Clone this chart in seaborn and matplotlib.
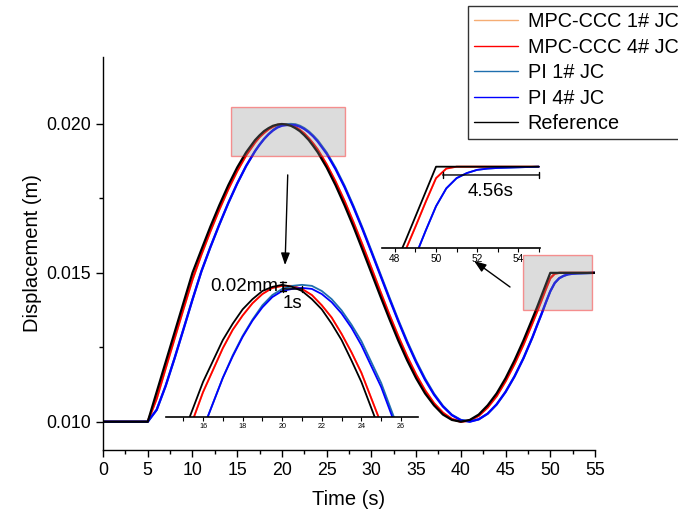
"""Displacement tracking: MPC-CCC vs PI controllers against the reference."""

import matplotlib

matplotlib.use("Agg")
import matplotlib.pyplot as plt
import pandas as pd
import seaborn as sns
from matplotlib.patches import Rectangle
from matplotlib.ticker import FormatStrFormatter, MultipleLocator

# --------------------------------------------------------------------------- #
# Data (time in s, displacement in m)
# --------------------------------------------------------------------------- #
t_s = [0, 1, 2, 3, 4, 5, 6, 7, 8, 9, 10, 11, 12, 13, 14, 15, 16, 17,
       17.5, 18, 18.5, 19, 19.5, 20, 20.5, 21, 21.5, 22, 22.5, 23, 23.5,
       24, 25, 26, 27, 28, 29, 30, 31, 32, 33, 34, 35, 36, 37, 38, 39, 40,
       41, 42, 43, 44, 45, 46, 47, 48,
       48.5, 49, 49.5, 50, 50.5, 51, 51.5, 52, 52.5,
       53, 54, 55]

ref = [0.01000, 0.01000, 0.01000, 0.01000, 0.01000, 0.01000, 0.01100, 0.01200,
       0.01300, 0.01400, 0.01500, 0.01578, 0.01655, 0.01727, 0.01794, 0.01854,
       0.01905, 0.01946,
       0.01962, 0.01976, 0.01986, 0.01994, 0.01998, 0.02000, 0.01998, 0.01994,
       0.01986, 0.01976, 0.01962, 0.01946, 0.01926,
       0.01905, 0.01854, 0.01794, 0.01727, 0.01655, 0.01578, 0.01500, 0.01422,
       0.01346, 0.01273, 0.01206, 0.01146, 0.01095, 0.01055, 0.01024, 0.01006,
       0.01000, 0.01006, 0.01024, 0.01055, 0.01095, 0.01146, 0.01206, 0.01273,
       0.01346,
       0.01383, 0.01422, 0.01461, 0.01500, 0.01500, 0.01500, 0.01500, 0.01500,
       0.01500,
       0.01500, 0.01500, 0.01500]

mpc_4 = [0.01000, 0.01000, 0.01000, 0.01000, 0.01000, 0.01000, 0.01078, 0.01180,
         0.01280, 0.01380, 0.01478, 0.01562, 0.01640, 0.01713, 0.01781, 0.01842,
         0.01895, 0.01938,
         0.01956, 0.01970, 0.01982, 0.01991, 0.01997, 0.01999, 0.01999, 0.01996,
         0.01990, 0.01980, 0.01968, 0.01952, 0.01934,
         0.01914, 0.01864, 0.01806, 0.01741, 0.01669, 0.01594, 0.01516, 0.01437,
         0.01360, 0.01287, 0.01219, 0.01158, 0.01105, 0.01062, 0.01030, 0.01009,
         0.01000, 0.01004, 0.01020, 0.01048, 0.01086, 0.01136, 0.01194, 0.01259,
         0.01331,
         0.01368, 0.01406, 0.01445, 0.01482, 0.01497, 0.01500, 0.01500, 0.01500,
         0.01500,
         0.01500, 0.01500, 0.01500]

# 1# JC of MPC-CCC lies right under the 4# JC curve in the source figure
mpc_1 = [0.01000, 0.01000, 0.01000, 0.01000, 0.01000, 0.01000, 0.01078, 0.01180,
         0.01280, 0.01380, 0.01478, 0.01562, 0.01640, 0.01713, 0.01781, 0.01842,
         0.01895, 0.01938,
         0.01956, 0.01970, 0.01982, 0.01991, 0.01997, 0.01999, 0.01999, 0.01996,
         0.01990, 0.01980, 0.01968, 0.01952, 0.01934,
         0.01914, 0.01864, 0.01806, 0.01741, 0.01669, 0.01594, 0.01516, 0.01437,
         0.01360, 0.01287, 0.01219, 0.01158, 0.01105, 0.01062, 0.01030, 0.01009,
         0.01000, 0.01004, 0.01020, 0.01048, 0.01086, 0.01136, 0.01194, 0.01259,
         0.01331,
         0.01368, 0.01406, 0.01445, 0.01482, 0.01497, 0.01500, 0.01500, 0.01500,
         0.01500,
         0.01500, 0.01500, 0.01500]

pi_4 = [0.01000, 0.01000, 0.01000, 0.01000, 0.01000, 0.01000, 0.01040, 0.01120,
        0.01213, 0.01311, 0.01410, 0.01505, 0.01586, 0.01662, 0.01734, 0.01800,
        0.01859, 0.01909,
        0.01930, 0.01949, 0.01965, 0.01978, 0.01988, 0.01994, 0.01996, 0.01997,
        0.01996, 0.01991, 0.01983, 0.01972, 0.01958,
        0.01941, 0.01900, 0.01848, 0.01788, 0.01720, 0.01647, 0.01570, 0.01492,
        0.01414, 0.01338, 0.01266, 0.01200, 0.01141, 0.01091, 0.01051, 0.01022,
        0.01005, 0.01000, 0.01008, 0.01027, 0.01058, 0.01100, 0.01152, 0.01213,
        0.01283,
        0.01322, 0.01360, 0.01400, 0.01438, 0.01466, 0.01482, 0.01490, 0.01495,
        0.01497,
        0.01498, 0.01499, 0.01500]

pi_1 = [0.01000, 0.01000, 0.01000, 0.01000, 0.01000, 0.01000, 0.01040, 0.01120,
        0.01213, 0.01311, 0.01410, 0.01505, 0.01586, 0.01662, 0.01734, 0.01800,
        0.01859, 0.01909,
        0.01931, 0.01950, 0.01966, 0.01980, 0.01990, 0.01996, 0.01999, 0.02000,
        0.01999, 0.01994, 0.01986, 0.01975, 0.01961,
        0.01945, 0.01904, 0.01852, 0.01792, 0.01724, 0.01651, 0.01574, 0.01496,
        0.01418, 0.01342, 0.01270, 0.01204, 0.01145, 0.01094, 0.01053, 0.01023,
        0.01006, 0.01001, 0.01008, 0.01027, 0.01058, 0.01100, 0.01152, 0.01213,
        0.01283,
        0.01322, 0.01360, 0.01400, 0.01438, 0.01466, 0.01482, 0.01490, 0.01495,
        0.01497,
        0.01498, 0.01499, 0.01500]

LABELS = ["MPC-CCC 1# JC", "MPC-CCC 4# JC", "PI 1# JC", "PI 4# JC", "Reference"]
COLORS = ["#f5ad74", "#ff0000", "#1f6fae", "#0000ff", "#000000"]

df = pd.concat(
    [
        pd.DataFrame({"time": t_s, "disp": vals, "series": lab})
        for lab, vals in zip(LABELS, [mpc_1, mpc_4, pi_1, pi_4, ref])
    ],
    ignore_index=True,
)

W, H = 678, 511


def draw_curves(ax, lw):
    sns.lineplot(
        data=df, x="time", y="disp", hue="series", hue_order=LABELS,
        palette=COLORS, estimator=None, sort=False, lw=lw, legend=False, ax=ax,
    )
    ax.set_xlabel("")
    ax.set_ylabel("")


def px_axes(fig, left, top, right, bottom):
    """Add axes given pixel box (top-left origin)."""
    return fig.add_axes([left / W, 1 - bottom / H, (right - left) / W, (bottom - top) / H])


def inset(fig, box, xlim, ylim, label_size):
    ax = px_axes(fig, *box)
    ax.patch.set_alpha(0)
    draw_curves(ax, 1.3)
    ax.set_xlim(*xlim)
    ax.set_ylim(*ylim)
    for side in ("top", "right", "left"):
        ax.spines[side].set_visible(False)
    ax.spines["bottom"].set_linewidth(1.2)
    ax.spines["bottom"].set_color("black")
    ax.set_yticks([])
    ax.xaxis.set_major_locator(MultipleLocator(2))
    ax.xaxis.set_minor_locator(MultipleLocator(1))
    ax.tick_params(axis="x", which="major", length=3, width=0.8,
                   labelsize=label_size, pad=1.5, color="black")
    ax.tick_params(axis="x", which="minor", length=3, width=0.8, color="black")
    return ax


sns.set_theme(style="ticks")
plt.rcParams.update(
    {
        "font.family": ["Liberation Sans", "DejaVu Sans"],
        "text.color": "black",
        "axes.labelcolor": "black",
        "xtick.color": "black",
        "ytick.color": "black",
        "xtick.labelcolor": "black",
        "ytick.labelcolor": "black",
    }
)

fig = plt.figure(figsize=(W / 100, H / 100), dpi=100)

# --- main axes ------------------------------------------------------------- #
ax = px_axes(fig, 103, 56.7, 595, 450)
draw_curves(ax, 1.6)
ax.set_xlim(0, 55)
ax.set_ylim(0.00905, 0.02226)
ax.xaxis.set_major_locator(MultipleLocator(5))
ax.xaxis.set_minor_locator(MultipleLocator(2.5))
ax.yaxis.set_major_locator(MultipleLocator(0.005))
ax.yaxis.set_minor_locator(MultipleLocator(0.0025))
ax.yaxis.set_major_formatter(FormatStrFormatter("%.3f"))
sns.despine(ax=ax)
for side in ("left", "bottom"):
    ax.spines[side].set_linewidth(1.0)
    ax.spines[side].set_color("black")
ax.tick_params(which="major", length=5, width=1, labelsize=12.8)
ax.tick_params(which="minor", length=3, width=1)
ax.set_xlabel("Time (s)", fontsize=14.5, labelpad=8)
ax.set_ylabel("Displacement (m)", fontsize=14.5, labelpad=3)

# zoom boxes on the main curves
for (x0, y0, w, h) in [(14.3, 0.01893, 12.8, 0.00165), (46.95, 0.01375, 7.72, 0.00185)]:
    ax.add_patch(Rectangle((x0, y0), w, h, facecolor=(0.55, 0.55, 0.55, 0.3),
                           edgecolor=(1, 0, 0, 0.4), lw=1, zorder=5))

arrow = dict(arrowstyle="-|>,head_length=0.6,head_width=0.22", color="black",
             lw=1, mutation_scale=12, shrinkA=0, shrinkB=0)
ax.annotate("", xy=(20.35, 0.01526), xytext=(20.65, 0.01829), arrowprops=arrow)
ax.annotate("", xy=(41.48, 0.0154), xytext=(45.5, 0.014525), arrowprops=arrow)

# --- inset around the peak ------------------------------------------------- #
ax1 = inset(fig, (166, 200, 418, 416.7), (14.13, 26.86), (0.01871, 0.02083), 5.2)
bracket = dict(arrowstyle="|-|,widthA=0.2,widthB=0.2", color="black", lw=1,
               mutation_scale=10, shrinkA=0, shrinkB=0)
ax1.annotate("", xy=(20.04, 0.01994), xytext=(20.04, 0.02003), arrowprops=bracket)
ax1.annotate("", xy=(20.04, 0.01996), xytext=(21.0, 0.01996), arrowprops=bracket)
ax1.text(19.8, 0.01998, "0.02mm", fontsize=13.5, ha="right", va="center")
ax1.text(20.5, 0.01982, "1s", fontsize=13.5, ha="center", va="center")

# --- inset around the settling point --------------------------------------- #
ax2 = inset(fig, (382, 130, 540, 247.7), (47.37, 55.06), (0.01373, 0.015575), 7.3)
ax2.annotate("", xy=(50.32, 0.01487), xytext=(55.0, 0.01487), arrowprops=bracket)
ax2.text(52.66, 0.01461, "4.56s", fontsize=13.5, ha="center", va="center")

# --- legend (sits across the top-right corner, clipped by the figure) ------ #
handles = ax.get_lines()[:5]
leg = fig.legend(
    handles, LABELS, loc="upper left", bbox_to_anchor=(468 / W, 1 - 6 / H),
    fontsize=14.3, frameon=True, fancybox=False, borderaxespad=0,
    borderpad=0.3, labelspacing=0.33, handlelength=2.2, handletextpad=0.5,
)
leg.get_frame().set_edgecolor("black")
leg.get_frame().set_linewidth(1.0)
for line in leg.get_lines():
    line.set_linewidth(1.0)

fig.savefig("out.png", dpi=100)
